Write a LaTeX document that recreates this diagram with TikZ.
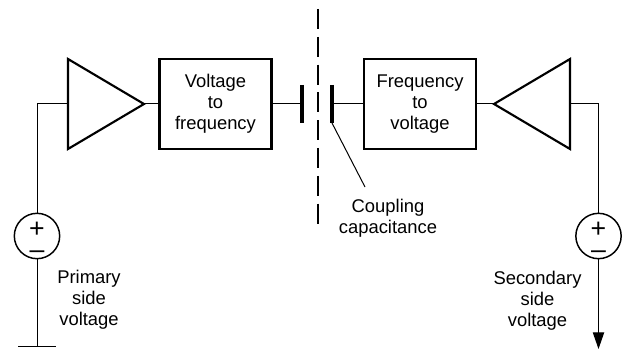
\documentclass[tikz,border=0pt]{standalone}
\usepackage{fontspec}
\setmainfont{Liberation Sans}
\usetikzlibrary{arrows.meta}
\newcommand{\polarity}{\raisebox{-9.2pt}[0pt][0pt]{+}\\\raisebox{-9.2pt}[0pt][0pt]{--}}

\begin{document}
\begin{tikzpicture}[x=0.75pt, y=-0.75pt, font=\fontsize{13.8}{15.75}\selectfont,
	wire/.style={line width=0.75pt},
	block/.style={rectangle, draw, line width=1.6pt, minimum width=84pt, minimum height=67pt, align=center, inner sep=0pt},
	amp/.style={draw, line width=1.6pt, line join=miter},
	plate/.style={line width=3pt},
	source/.style={circle, draw, line width=1.1pt, minimum size=34pt, inner sep=0pt, align=center, font=\fontsize{20}{15.75}\selectfont},
	label/.style={align=center, inner sep=0pt}]
	\useasboundingbox (0, 0) rectangle (624, 349);

	% ブロック
	\node[block] (VF) at (215.5, 104) {Voltage\\to\\frequency};
	\node[block] (FV) at (420, 104) {Frequency\\to\\voltage};

	% 三角形
	\coordinate (AL1) at (68, 59);
	\coordinate (AL2) at (68, 149);
	\coordinate (ALin) at (68, 104);
	\coordinate (ALout) at (144, 104);
	\coordinate (AR1) at (570, 59);
	\coordinate (AR2) at (570, 149);
	\coordinate (ARin) at (570, 104);
	\coordinate (ARout) at (494, 104);
	\draw[amp] (AL1) -- (ALout) -- (AL2) -- cycle;
	\draw[amp] (AR1) -- (ARout) -- (AR2) -- cycle;

	% コンデンサ
	\coordinate (CL1) at (302, 85);
	\coordinate (CL2) at (302, 123);
	\coordinate (CLm) at (302, 104);
	\coordinate (CR1) at (332, 85);
	\coordinate (CR2) at (332, 123);
	\coordinate (CRm) at (332, 104);
	\draw[plate] (CL1) -- (CL2);
	\draw[plate] (CR1) -- (CR2);

	% 電源
	\node[source] (SL) at (37, 236) {\polarity};
	\node[source] (SR) at (598.5, 236) {\polarity};

	% 端点
	\coordinate (BL) at (38, 104);
	\coordinate (BR) at (599.5, 104);
	\coordinate (GND) at (37, 346);
	\coordinate (GND1) at (18, 346);
	\coordinate (GND2) at (56, 346);
	\coordinate (OUT) at (598.5, 349);
	\coordinate (LEAD) at (365, 187);
	\coordinate (ISO1) at (318, 9);
	\coordinate (ISO2) at (318, 225);

	% 線を引く
	\draw[wire] (SL) -- (SL |- BL) -- (ALin);
	\draw[wire] (ALout) -- (VF);
	\draw[wire] (VF) -- (CLm);
	\draw[wire] (CRm) -- (FV);
	\draw[wire] (FV) -- (ARout);
	\draw[wire] (ARin) -- (SR |- BR) -- (SR);
	\draw[wire] (SL) -- (GND);
	\draw[wire] (GND1) -- (GND2);
	\draw[wire, -{Triangle[length=12.5pt, width=8.5pt]}] (SR) -- (OUT);
	\draw[wire] (CR2) -- (LEAD);
	\draw[line width=1.5pt, dash pattern=on 15pt off 5.85pt] (ISO1) -- (ISO2);

	% 文字を入れる
	\node[label] (CAP) at (388, 218.5) {Coupling\\capacitance};
	\node[label] (PRI) at (89, 299.5) {Primary\\side\\voltage};
	\node[label] (SEC) at (537.5, 301) {Secondary\\side\\voltage};
\end{tikzpicture}
\end{document}
